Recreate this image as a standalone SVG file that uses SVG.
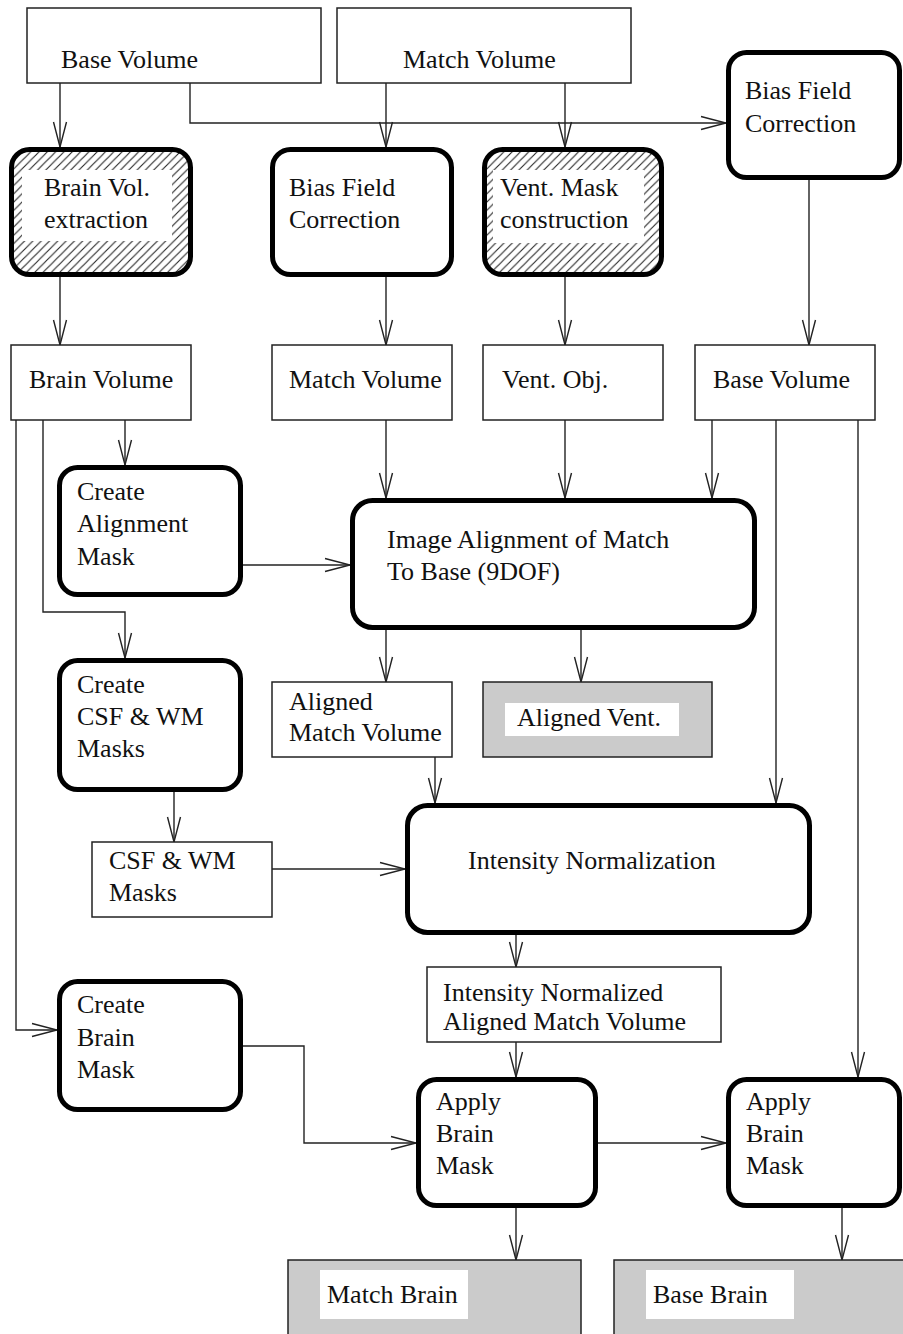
<svg xmlns="http://www.w3.org/2000/svg" width="903" height="1334" viewBox="0 0 903 1334">
<style>
text{font-family:"Liberation Serif","Times New Roman",serif;font-size:26px;fill:#111}
.box{fill:#fff;stroke:#222;stroke-width:1.5}
.gray{fill:#cbcbcb;stroke:#222;stroke-width:1.5}
.white{fill:#fff;stroke:none}
.proc{fill:#fff;stroke:#000;stroke-width:5}
.hatch{fill:url(#hatch);stroke:none}
.conn path{fill:none;stroke:#222;stroke-width:1.4;marker-end:url(#arr)}
</style>
<defs>
<pattern id="hatch" patternUnits="userSpaceOnUse" width="8.3" height="8.3">
<rect width="8.3" height="8.3" fill="#fff"/>
<path d="M0,8.3 L8.3,0 M-2,2 L2,-2 M6.3,10.3 L10.3,6.3" stroke="#222" stroke-width="1.1"/>
</pattern>
<marker id="arr" markerUnits="userSpaceOnUse" markerWidth="30" markerHeight="16" refX="25" refY="7" orient="auto" viewBox="0 0 30 16" overflow="visible">
<path d="M0,0.5 L25,7 L0,13.5" fill="none" stroke="#222" stroke-width="1.4"/>
</marker>
</defs>
<rect width="903" height="1334" fill="#fff"/>

<g id="connectors" class="conn">
<path d="M60,83 V147"/>
<path d="M190,83 V123 H726"/>
<path d="M386,83 V147"/>
<path d="M565,83 V147"/>
<path d="M60,277 V345"/>
<path d="M386,277 V345"/>
<path d="M565,277 V345"/>
<path d="M809,180 V345"/>
<path d="M125,420 V465"/>
<path d="M43,420 V612 H125 V658"/>
<path d="M16,420 V1030 H57"/>
<path d="M243,565 H350"/>
<path d="M386,420 V498"/>
<path d="M565,420 V498"/>
<path d="M712,420 V498"/>
<path d="M776,420 V803"/>
<path d="M858,420 V1077"/>
<path d="M386,630 V682"/>
<path d="M581,630 V682"/>
<path d="M435,757 V803"/>
<path d="M174,792 V842"/>
<path d="M272,869 H405"/>
<path d="M516,935 V967"/>
<path d="M516,1042 V1077"/>
<path d="M243,1046 H304 V1143 H416"/>
<path d="M598,1143 H726"/>
<path d="M516,1208 V1260"/>
<path d="M842,1208 V1260"/>
</g>

<g id="base-volume">
<rect class="box" x="27" y="8" width="294" height="75"/>
<text x="61" y="68">Base Volume</text>
</g>
<g id="match-volume">
<rect class="box" x="337" y="8" width="294" height="75"/>
<text x="403" y="68">Match Volume</text>
</g>

<g id="brain-vol-extraction">
<rect class="hatch" x="11.5" y="149.5" width="179" height="125" rx="18"/>
<rect class="white" x="22" y="170" width="150" height="71"/>
<rect class="proc" x="11.5" y="149.5" width="179" height="125" rx="18" style="fill:none"/>
<text x="44" y="196">Brain Vol.</text>
<text x="44" y="228">extraction</text>
</g>
<g id="bias-field-correction-1">
<rect class="proc" x="272.5" y="149.5" width="179" height="125" rx="18"/>
<text x="289" y="196">Bias Field</text>
<text x="289" y="228">Correction</text>
</g>
<g id="vent-mask-construction">
<rect class="hatch" x="484.5" y="149.5" width="177" height="125" rx="18"/>
<rect class="white" x="493" y="170" width="151" height="73"/>
<rect class="proc" x="484.5" y="149.5" width="177" height="125" rx="18" style="fill:none"/>
<text x="500" y="196">Vent. Mask</text>
<text x="500" y="228">construction</text>
</g>
<g id="bias-field-correction-2">
<rect class="proc" x="728.5" y="52.5" width="171" height="125" rx="18"/>
<text x="745" y="99">Bias Field</text>
<text x="745" y="132">Correction</text>
</g>

<g id="brain-volume">
<rect class="box" x="11" y="345" width="180" height="75"/>
<text x="29" y="388">Brain Volume</text>
</g>
<g id="match-volume-2">
<rect class="box" x="272" y="345" width="180" height="75"/>
<text x="289" y="388">Match Volume</text>
</g>
<g id="vent-obj">
<rect class="box" x="483" y="345" width="180" height="75"/>
<text x="502" y="388">Vent. Obj.</text>
</g>
<g id="base-volume-2">
<rect class="box" x="695" y="345" width="180" height="75"/>
<text x="713" y="388">Base Volume</text>
</g>

<g id="create-alignment-mask">
<rect class="proc" x="59.5" y="467.5" width="181" height="127" rx="18"/>
<text x="77" y="500">Create</text>
<text x="77" y="532">Alignment</text>
<text x="77" y="565">Mask</text>
</g>
<g id="image-alignment">
<rect class="proc" x="352.5" y="500.5" width="402" height="127" rx="20"/>
<text x="387" y="548">Image Alignment of Match</text>
<text x="387" y="580">To Base (9DOF)</text>
</g>

<g id="create-csf-wm-masks">
<rect class="proc" x="59.5" y="660.5" width="181" height="129" rx="18"/>
<text x="77" y="693">Create</text>
<text x="77" y="725">CSF &amp; WM</text>
<text x="77" y="757">Masks</text>
</g>
<g id="aligned-match-volume">
<rect class="box" x="272" y="682" width="180" height="75"/>
<text x="289" y="710">Aligned</text>
<text x="289" y="741">Match Volume</text>
</g>
<g id="aligned-vent">
<rect class="gray" x="483" y="682" width="229" height="75"/>
<rect class="white" x="505" y="703" width="174" height="33"/>
<text x="517" y="726">Aligned Vent.</text>
</g>

<g id="csf-wm-masks">
<rect class="box" x="92" y="842" width="180" height="75"/>
<text x="109" y="869">CSF &amp; WM</text>
<text x="109" y="901">Masks</text>
</g>
<g id="intensity-normalization">
<rect class="proc" x="407.5" y="805.5" width="402" height="127" rx="20"/>
<text x="468" y="869">Intensity Normalization</text>
</g>

<g id="intensity-normalized-aligned">
<rect class="box" x="427" y="967" width="294" height="75"/>
<text x="443" y="1001">Intensity Normalized</text>
<text x="443" y="1030">Aligned Match Volume</text>
</g>
<g id="create-brain-mask">
<rect class="proc" x="59.5" y="981.5" width="181" height="128" rx="18"/>
<text x="77" y="1013">Create</text>
<text x="77" y="1046">Brain</text>
<text x="77" y="1078">Mask</text>
</g>

<g id="apply-brain-mask-1">
<rect class="proc" x="418.5" y="1079.5" width="177" height="126" rx="18"/>
<text x="436" y="1110">Apply</text>
<text x="436" y="1142">Brain</text>
<text x="436" y="1174">Mask</text>
</g>
<g id="apply-brain-mask-2">
<rect class="proc" x="728.5" y="1079.5" width="171" height="126" rx="18"/>
<text x="746" y="1110">Apply</text>
<text x="746" y="1142">Brain</text>
<text x="746" y="1174">Mask</text>
</g>

<g id="match-brain">
<rect class="gray" x="288" y="1260" width="293" height="80"/>
<rect class="white" x="320" y="1270" width="148" height="49"/>
<text x="327" y="1303">Match Brain</text>
</g>
<g id="base-brain">
<rect class="gray" x="614" y="1260" width="296" height="80"/>
<rect class="white" x="646" y="1270" width="148" height="49"/>
<text x="653" y="1303">Base Brain</text>
</g>
</svg>
